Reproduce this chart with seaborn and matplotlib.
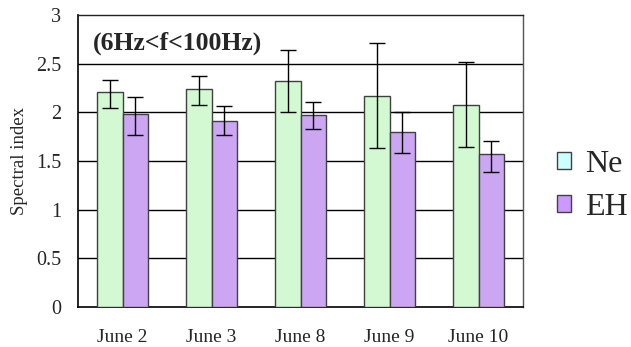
import matplotlib
matplotlib.use("Agg")
import matplotlib.pyplot as plt
import seaborn as sns
import pandas as pd
import numpy as np
from matplotlib.patches import Patch
from matplotlib.ticker import FixedLocator

dates = ["June 2", "June 3", "June 8", "June 9", "June 10"]
ne_vals = [2.21, 2.24, 2.32, 2.17, 2.08]
ne_upper = [2.33, 2.37, 2.64, 2.71, 2.52]
ne_lower = [2.04, 2.08, 2.00, 1.63, 1.64]
eh_vals = [1.98, 1.91, 1.97, 1.80, 1.57]
eh_upper = [2.16, 2.07, 2.11, 2.00, 1.71]
eh_lower = [1.77, 1.77, 1.83, 1.58, 1.39]
series = ["Ne", "EH"]
yticks = [0, 0.5, 1, 1.5, 2, 2.5, 3]
ytick_labels = ["0", "0.5", "1", "1.5", "2", "2.5", "3"]

sns.set_theme(style="white")
plt.rcParams['font.family'] = ['Liberation Serif', 'DejaVu Serif']

df = pd.DataFrame({
    "date": dates * 2,
    "series": ["Ne"] * len(dates) + ["EH"] * len(dates),
    "value": ne_vals + eh_vals,
})

fig = plt.figure(figsize=(6.31, 3.47), dpi=100)
ax = fig.add_axes([78/631, 1 - 307/347, (523-78)/631, (307-15)/347])

bar_colors = {"Ne": "#ccffcc", "EH": "#cc99ff"}
sns.barplot(data=df, x="date", y="value", hue="series", order=dates,
            hue_order=series, palette=bar_colors, width=0.573, gap=0,
            errorbar=None, edgecolor="#404040", linewidth=1.0, ax=ax,
            legend=False, zorder=3)

# error bars at bar centers
patches = [p for p in ax.patches]
n = len(dates)
for i, (vals, up, lo) in enumerate([(ne_vals, ne_upper, ne_lower),
                                    (eh_vals, eh_upper, eh_lower)]):
    for j in range(n):
        p = patches[i * n + j]
        xc = p.get_x() + p.get_width() / 2
        ax.errorbar(xc, vals[j], yerr=[[vals[j] - lo[j]], [up[j] - vals[j]]],
                    fmt="none", ecolor="black", elinewidth=1.0, capsize=5.5,
                    capthick=1.0, zorder=4)

ax.set_ylim(0, 3)
ax.set_xlim(-0.5, n - 0.5)
ax.set_yticks(yticks)
ax.set_yticklabels(ytick_labels, fontsize=14.5)
for yv in yticks[1:-1]:
    ax.axhline(yv, color="black", linewidth=1.0, zorder=1)

ax.set_xticks(range(n))
ax.set_xticklabels(dates, fontsize=14)
ax.xaxis.set_minor_locator(FixedLocator([k + 0.5 for k in range(n - 1)]))
ax.tick_params(axis="x", which="major", length=0, pad=16)
ax.tick_params(axis="x", which="minor", direction="in", length=5, width=1, color="black")
ax.tick_params(axis="y", which="major", direction="in", length=5, width=1, color="black", pad=12)

ax.set_xlabel("")
ax.set_ylabel("Spectral index", fontsize=13.5, labelpad=6)

for side in ["left", "bottom"]:
    ax.spines[side].set_color("black")
    ax.spines[side].set_linewidth(1.2)
ax.spines["top"].set_color("#222222")
ax.spines["top"].set_linewidth(1.0)
ax.spines["right"].set_color("#555555")
ax.spines["right"].set_linewidth(1.0)

ax.text(0.033, 0.880, "(6Hz<f<100Hz)", transform=ax.transAxes, fontsize=18.5,
        fontweight="bold", va="baseline", ha="left")

handles = [Patch(facecolor="#ccffff", edgecolor="#404040", label="Ne"),
           Patch(facecolor="#cc99ff", edgecolor="#404040", label="EH")]
fig.legend(handles=handles, loc="center left", bbox_to_anchor=(557/631, 1 - 186/347),
           frameon=False, fontsize=23, handlelength=0.44, handleheight=0.44,
           handletextpad=0.44, labelspacing=0.42, borderaxespad=0, borderpad=0)

fig.savefig("out.png", dpi=100)
